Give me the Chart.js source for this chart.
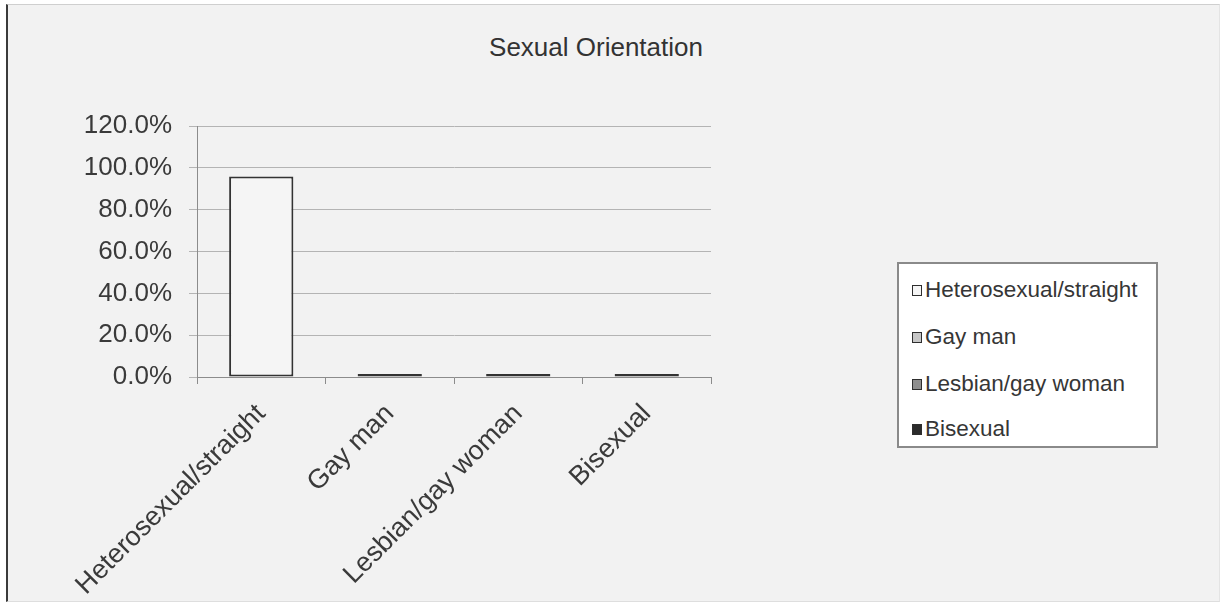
<!DOCTYPE html>
<html>
<head>
<meta charset="utf-8">
<title>Sexual Orientation</title>
<script src="https://cdn.jsdelivr.net/npm/chart.js@4.4.1/dist/chart.umd.min.js"></script>
<style>
  body { margin: 0; background: #ffffff; font-family: "Liberation Sans", Arial, sans-serif; }
  #page { position: relative; width: 1228px; height: 605px; overflow: hidden; }
  #frame {
    position: absolute; left: 6px; top: 4px; width: 1211px; height: 596px;
    background: #f2f2f2;
    border-left: 2px solid #3a3a3a; border-top: 1px solid #cfcfcf;
    border-right: 1px solid #e4e4e4; border-bottom: 1px solid #dedede;
  }
  #title {
    position: absolute; left: 0; width: 1192px; top: 32px;
    text-align: center; font-size: 26px; line-height: 30px; color: #333333;
  }
  #chart { position: absolute; left: 0; top: 0; }
  #legend {
    position: absolute; left: 897px; top: 262px; width: 257px; height: 182px;
    background: #ffffff; border: 2px solid #8a8a8a;
  }
  #legend ul { list-style: none; margin: 0; padding: 0; }
  #legend li {
    position: absolute; left: 13px; height: 28px; line-height: 28px;
    font-size: 22.5px; color: #363636; white-space: nowrap;
  }
  #legend .box {
    display: inline-block; width: 8px; height: 9px; margin-right: 3px;
    border: 1.5px solid #2e2e2e; vertical-align: 1px;
  }
</style>
</head>
<body>
<div id="page">
  <div id="frame"></div>
  <div id="title">Sexual Orientation</div>
  <canvas id="chart" width="1228" height="605"></canvas>
  <div id="legend"></div>
</div>
<script>
// categories and their share of respondents (percent)
const categories = ['Heterosexual/straight', 'Gay man', 'Lesbian/gay woman', 'Bisexual'];
const percentValues = [95.8, 1.4, 1.4, 1.4];
const yMax = 120;
const yStep = 20;

const barFills = ['#f5f5f5', '#c6c6c6', '#8e8e8e', '#2b2b2b'];
const textColor = '#3a3a3a';

Chart.defaults.font.family = '"Liberation Sans", Arial, sans-serif';
Chart.defaults.color = textColor;

// legend built as html from the chart's own labels
const htmlLegend = {
  id: 'htmlLegend',
  afterUpdate(chart) {
    const holder = document.getElementById('legend');
    holder.innerHTML = '';
    const ul = document.createElement('ul');
    const items = chart.data.labels.map((label, i) => ({
      text: label,
      fill: chart.data.datasets[0].backgroundColor[i]
    }));
    const rowTops = [12, 59, 106, 151];
    items.forEach((item, i) => {
      const li = document.createElement('li');
      li.style.top = rowTops[i] + 'px';
      const box = document.createElement('span');
      box.className = 'box';
      box.style.background = item.fill;
      li.appendChild(box);
      li.appendChild(document.createTextNode(item.text));
      ul.appendChild(li);
    });
    holder.appendChild(ul);
  }
};

const ctx = document.getElementById('chart');
new Chart(ctx, {
  type: 'bar',
  data: {
    labels: categories,
    datasets: [{
      label: 'Sexual Orientation',
      data: percentValues,
      backgroundColor: barFills,
      borderColor: '#333333',
      borderWidth: 2,
      borderSkipped: false,
      barPercentage: 0.5,
      categoryPercentage: 1.0
    }]
  },
  options: {
    responsive: false,
    animation: false,
    devicePixelRatio: 1,
    layout: { padding: { left: 0, right: 517, top: 126, bottom: 0 } },
    plugins: {
      legend: { display: false },
      title: { display: false },
      tooltip: { enabled: false }
    },
    scales: {
      x: {
        offset: true,
        afterFit: (scale) => { scale.height = 228; },
        grid: {
          offset: true,
          drawOnChartArea: false,
          color: '#8c8c8c',
          tickLength: 7
        },
        border: { color: '#8c8c8c', width: 1 },
        ticks: {
          autoSkip: false,
          minRotation: 45,
          maxRotation: 45,
          padding: 14,
          font: { size: 27 },
          color: textColor
        }
      },
      y: {
        min: 0,
        max: yMax,
        afterFit: (scale) => { scale.width = 197; },
        grid: { color: '#b4b4b4', tickLength: 8 },
        border: { color: '#8c8c8c', width: 1 },
        ticks: {
          stepSize: yStep,
          padding: 17,
          font: { size: 26 },
          color: textColor,
          callback: (v) => v.toFixed(1) + '%'
        }
      }
    }
  },
  plugins: [htmlLegend]
});
</script>
</body>
</html>
